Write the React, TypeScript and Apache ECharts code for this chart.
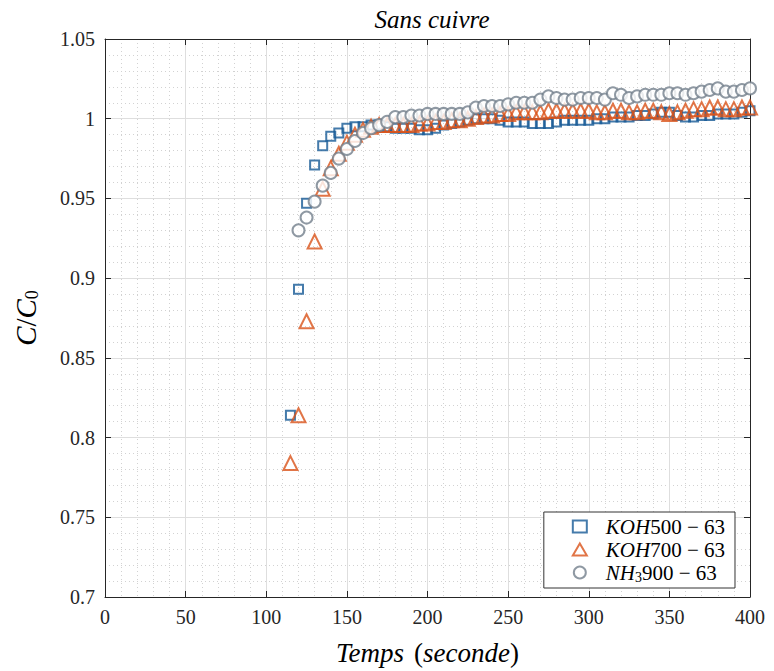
import React, { useEffect, useRef } from "react";
import * as echarts from "echarts";

const timesKOH: number[] = [
  115, 120, 125, 130, 135, 140, 145, 150, 155, 160, 165, 170, 175, 180, 185, 190, 195, 200,
  205, 210, 215, 220, 225, 230, 235, 240, 245, 250, 255, 260, 265, 270, 275, 280, 285, 290,
  295, 300, 305, 310, 315, 320, 325, 330, 335, 340, 345, 350, 355, 360, 365, 370, 375, 380,
  385, 390, 395, 400,
];
const timesNH3: number[] = timesKOH.slice(1);

const koh500: number[] = [
  0.814, 0.893, 0.947, 0.971, 0.983, 0.989, 0.991, 0.994, 0.995, 0.995, 0.996, 0.996, 0.995,
  0.994, 0.994, 0.994, 0.993, 0.993, 0.994, 0.996, 0.997, 0.998, 0.999, 1.0, 1.0, 1.0, 0.999,
  0.998, 0.998, 0.998, 0.997, 0.997, 0.997, 0.998, 0.999, 0.999, 0.999, 0.999, 1.0, 1.0, 1.001,
  1.001, 1.001, 1.002, 1.002, 1.003, 1.004, 1.004, 1.002, 1.001, 1.001, 1.002, 1.002, 1.003,
  1.003, 1.003, 1.004, 1.005,
];
const koh700: number[] = [
  0.784, 0.814, 0.873, 0.923, 0.956, 0.969, 0.978, 0.985, 0.99, 0.993, 0.995, 0.996, 0.996,
  0.996, 0.996, 0.996, 0.997, 0.997, 0.998, 0.998, 0.999, 0.999, 1.0, 1.001, 1.002, 1.002,
  1.003, 1.003, 1.004, 1.004, 1.004, 1.004, 1.005, 1.005, 1.005, 1.005, 1.005, 1.005, 1.004,
  1.004, 1.005, 1.005, 1.004, 1.004, 1.005, 1.005, 1.004, 1.003, 1.004, 1.005, 1.006, 1.006,
  1.007, 1.007, 1.006, 1.006, 1.007, 1.007,
];
const nh3900: number[] = [
  0.93, 0.938, 0.948, 0.958, 0.966, 0.975, 0.981, 0.986, 0.991, 0.994, 0.996, 0.998, 1.001,
  1.001, 1.002, 1.002, 1.003, 1.003, 1.003, 1.003, 1.003, 1.004, 1.007, 1.008, 1.008, 1.008,
  1.009, 1.01, 1.01, 1.01, 1.012, 1.014, 1.013, 1.012, 1.012, 1.013, 1.013, 1.013, 1.012,
  1.016, 1.015, 1.013, 1.014, 1.015, 1.015, 1.015, 1.016, 1.016, 1.015, 1.016, 1.017, 1.018,
  1.019, 1.017, 1.017, 1.018, 1.019,
];

const seriesNames: string[] = ["KOH500-63", "KOH700-63", "NH3900-63"];

const SERIF = "Liberation Serif";

export default function App() {
  const ref = useRef<HTMLDivElement>(null);
  useEffect(() => {
    if (!ref.current) return;
    const chart = echarts.init(ref.current, undefined, { renderer: "svg" });
    const zip = (xs: number[], ys: number[]) => xs.map((x, i) => [x, ys[i]]);
    const legendRich = {
      g: { width: 14 },
      i: { fontFamily: SERIF, fontStyle: "italic", fontSize: 21, color: "#000" },
      n: { fontFamily: SERIF, fontSize: 21, color: "#000" },
      s: { fontFamily: SERIF, fontSize: 14, color: "#000", padding: [9, 0, 0, 0] },
    };
    const legendFmt = (name: string) => {
      if (name === seriesNames[0]) return "{g|}{i|KOH}{n|500 − 63}";
      if (name === seriesNames[1]) return "{g|}{i|KOH}{n|700 − 63}";
      return "{g|}{i|NH}{s|3}{n|900 − 63}";
    };
    const gridLine = { show: true, lineStyle: { color: "#dedede", width: 1 } };
    const minorLine = { show: true, lineStyle: { color: "#d2d2d2", type: [1, 3], width: 1 } };
    const axisLine = { show: true, onZero: false, lineStyle: { color: "#262626", width: 1 } };
    const tick = { show: true, inside: true, length: 6, lineStyle: { color: "#262626" } };
    chart.setOption({
      animation: false,
      backgroundColor: "#fff",
      textStyle: { fontFamily: SERIF },
      title: {
        text: "Sans cuivre",
        left: 427,
        top: 2,
        textAlign: "center",
        textStyle: { fontFamily: SERIF, fontStyle: "italic", fontWeight: "normal", fontSize: 25, color: "#000" },
      },
      grid: { left: 105, right: 24, top: 39, bottom: 68, containLabel: false },
      legend: {
        orient: "vertical",
        right: 39,
        bottom: 83,
        data: seriesNames,
        formatter: legendFmt,
        textStyle: { rich: legendRich },
        itemWidth: 14,
        itemHeight: 12,
        itemGap: 2,
        padding: [4, 10, 4, 28],
        borderColor: "#333",
        borderWidth: 1,
        backgroundColor: "#fff",
      },
      xAxis: [
        {
          type: "value",
          min: 0,
          max: 400,
          interval: 50,
          name: "{i|Temps}{g|}{n|(}{i|seconde}{n|)}",
          nameLocation: "middle",
          nameGap: 42,
          nameTextStyle: {
            rich: {
              g: { width: 10 },
              i: { fontFamily: SERIF, fontStyle: "italic", fontSize: 27, color: "#000" },
              n: { fontFamily: SERIF, fontSize: 27, color: "#000" },
            },
          },
          axisLine,
          axisTick: tick,
          axisLabel: { fontFamily: SERIF, fontSize: 20, color: "#262626", margin: 10 },
          splitLine: gridLine,
          minorTick: { show: false, splitNumber: 5 },
          minorSplitLine: minorLine,
        },
        {
          type: "value",
          position: "top",
          min: 0,
          max: 400,
          interval: 50,
          axisLine,
          axisTick: tick,
          axisLabel: { show: false },
          splitLine: { show: false },
        },
      ],
      yAxis: [
        {
          type: "value",
          min: 0.7,
          max: 1.05,
          interval: 0.05,
          name: "{i|C}{n|/}{i|C}{s|0}",
          nameLocation: "middle",
          nameGap: 64,
          nameRotate: 90,
          nameTextStyle: {
            rich: {
              i: { fontFamily: SERIF, fontStyle: "italic", fontSize: 29, color: "#000" },
              n: { fontFamily: SERIF, fontSize: 29, color: "#000" },
              s: { fontFamily: SERIF, fontSize: 18, color: "#000", padding: [12, 0, 0, 0] },
            },
          },
          axisLine,
          axisTick: tick,
          axisLabel: {
            fontFamily: SERIF,
            fontSize: 20,
            color: "#262626",
            margin: 10,
            formatter: (v: number) => String(Math.round(v * 100) / 100),
          },
          splitLine: gridLine,
          minorTick: { show: false, splitNumber: 5 },
          minorSplitLine: minorLine,
        },
        {
          type: "value",
          position: "right",
          min: 0.7,
          max: 1.05,
          interval: 0.05,
          axisLine,
          axisTick: tick,
          axisLabel: { show: false },
          splitLine: { show: false },
        },
      ],
      series: [
        {
          name: seriesNames[0],
          type: "scatter",
          symbol: "rect",
          symbolSize: 9,
          data: zip(timesKOH, koh500),
          itemStyle: { color: "rgba(255,255,255,0)", borderColor: "#175a96", borderWidth: 2 },
          z: 3,
        },
        {
          name: seriesNames[1],
          type: "scatter",
          symbol: "triangle",
          symbolSize: 14,
          data: zip(timesKOH, koh700),
          itemStyle: { color: "rgba(255,255,255,0)", borderColor: "#d95319", borderWidth: 2 },
          z: 4,
        },
        {
          name: seriesNames[2],
          type: "scatter",
          symbol: "circle",
          symbolSize: 12,
          data: zip(timesNH3, nh3900),
          itemStyle: { color: "#ffffff", borderColor: "#73808c", borderWidth: 2 },
          z: 5,
        },
      ],
    });
    return () => chart.dispose();
  }, []);
  return <div ref={ref} style={{ position: "absolute", left: 0, top: 0, width: 774, height: 671 }} />;
}
